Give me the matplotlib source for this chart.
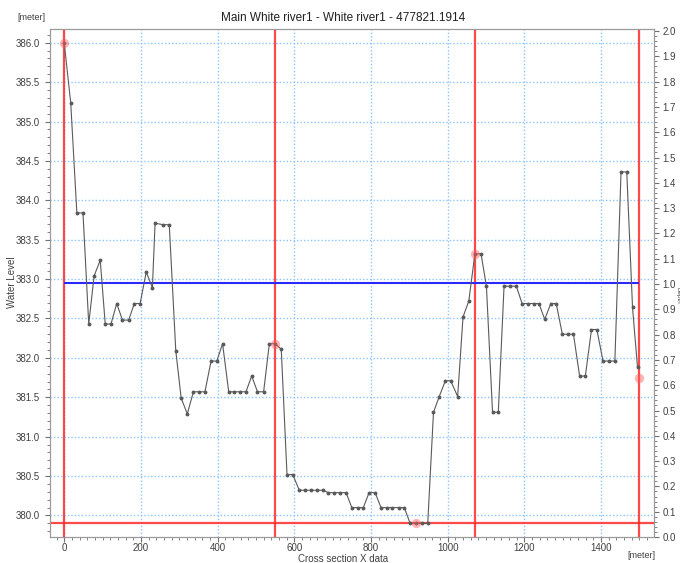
import matplotlib
matplotlib.use('Agg')
import matplotlib.pyplot as plt
from matplotlib.ticker import MultipleLocator

plt.rcParams['font.family'] = ['Liberation Sans', 'DejaVu Sans']

# cross section profile (chainage, level)
xs = [0, 17, 33, 49, 64, 78, 94, 107, 122, 137, 152, 168, 183, 198, 214, 230, 237, 258, 274,
      291, 305, 321, 337, 352, 367, 383, 398, 413, 429, 443, 459, 474, 489, 504, 520, 535, 550,
      566, 581, 596, 613, 628, 643, 659, 674, 689, 704, 720, 735, 750, 765, 780, 795, 811, 826,
      841, 856, 872, 887, 902, 918, 934, 948, 963, 978, 994, 1008, 1026, 1040, 1055, 1071, 1087,
      1101, 1117, 1132, 1147, 1163, 1179, 1194, 1210, 1224, 1238, 1253, 1269, 1283, 1299, 1314,
      1328, 1344, 1359, 1375, 1389, 1405, 1420, 1436, 1452, 1467, 1482, 1495]
ys = [386.00, 385.24, 383.84, 383.84, 382.43, 383.04, 383.24, 382.43, 382.43, 382.69, 382.48,
      382.48, 382.69, 382.69, 383.09, 382.89, 383.71, 383.69, 383.69,
      382.09, 381.49, 381.29, 381.57, 381.57, 381.57, 381.96, 381.96, 382.18, 381.57, 381.57,
      381.57, 381.57, 381.77, 381.57, 381.57, 382.18, 382.18,
      382.11, 380.52, 380.52, 380.32, 380.32, 380.32, 380.32, 380.32, 380.29, 380.29, 380.29,
      380.29, 380.10, 380.10, 380.10, 380.29, 380.29, 380.10,
      380.10, 380.10, 380.10, 380.10, 379.90, 379.90, 379.90, 379.90, 381.31, 381.51, 381.71,
      381.71, 381.51, 382.52, 382.72, 383.32, 383.32,
      382.91, 381.31, 381.31, 382.91, 382.91, 382.91, 382.69, 382.69, 382.69, 382.69, 382.49,
      382.69, 382.69, 382.30, 382.30,
      382.30, 381.77, 381.77, 382.36, 382.36, 381.96, 381.96, 381.96, 384.36, 384.36, 382.64,
      381.88]

# markers (red circles) and marker lines
mark_x = [0, 550, 918, 1071, 1498]
mark_y = [386.00, 382.18, 379.90, 383.32, 381.75]
bank_x = [0, 550, 1071, 1498]
bed_level = 379.90
water_level = 382.95
water_span = [0, 1498]

xticks = [0, 200, 400, 600, 800, 1000, 1200, 1400]

fig = plt.figure(figsize=(6.8, 5.63), dpi=100)
ax = fig.add_axes([50/680, 1-537/563, 604/680, 508/563])

ax.set_xlim(-37, 1538)
ax.set_ylim(379.727, 386.174)
ax.set_xticks(xticks)
ax.xaxis.set_minor_locator(MultipleLocator(20))
ax.yaxis.set_major_locator(MultipleLocator(0.5))
ax.yaxis.set_minor_locator(MultipleLocator(0.1))
ax.yaxis.set_major_formatter(matplotlib.ticker.FormatStrFormatter('%.1f'))
ax.grid(True, which='major', color='#8cc4ff', ls=(0, (1, 1.5)), lw=1.0)
ax.set_axisbelow(True)

for b in bank_x:
    ax.axvline(b, color='#ff2a2a', lw=1.6, alpha=0.85, zorder=3)
ax.axhline(bed_level, color='#ff2a2a', lw=1.6, alpha=0.85, zorder=3)
ax.hlines(water_level, water_span[0], water_span[1], color='#2a2aff', lw=1.5, zorder=3)

ax.plot(xs, ys, color='#5a5a5a', lw=0.8, marker='o', ms=1.8, zorder=4)
ax.scatter(mark_x, mark_y, s=45, color='#ff5a5a', alpha=0.45, zorder=5, linewidths=0)

for a in ['top', 'bottom', 'left', 'right']:
    ax.spines[a].set_color('#9a9a9a')
ax.tick_params(which='both', labelsize=7, colors='#707070', labelcolor='#404040', direction='out')
ax.tick_params(which='major', length=3.5)
ax.tick_params(which='minor', length=2)
ax.tick_params(axis='x', pad=1)

ax2 = ax.twinx()
ax2.set_ylim(0, 2.008)
ax2.yaxis.set_major_locator(MultipleLocator(0.1))
ax2.yaxis.set_minor_locator(MultipleLocator(0.02))
ax2.yaxis.set_major_formatter(matplotlib.ticker.FormatStrFormatter('%.1f'))
ax2.tick_params(which='both', labelsize=7, colors='#707070', labelcolor='#404040', direction='out')
ax2.tick_params(which='major', length=3.5, pad=2.5)
ax2.tick_params(which='minor', length=2)
for a in ['top', 'bottom', 'left', 'right']:
    ax2.spines[a].set_color('#9a9a9a')

fig.text(343/680, 1-18/563, 'Main White river1 - White river1 - 477821.1914', ha='center', va='center',
         fontsize=8.5, color='#202020')
fig.text(31/680, 1-18/563, '[meter]', ha='center', va='center', fontsize=6.5, color='#404040')
fig.text(12/680, 1-282/563, 'Water Level', ha='center', va='center', rotation=90, fontsize=7, color='#404040')
fig.text(343/680, 1-558.5/563, 'Cross section X data', ha='center', va='center', fontsize=7, color='#404040')
fig.text(641/680, 1-556/563, '[meter]', ha='center', va='center', fontsize=6.5, color='#404040')
fig.text(677.5/680, 1-295.5/563, 'Depth', ha='center', va='center', rotation=270, fontsize=4.5, color='#404040')

fig.savefig('out.png', dpi=100)
